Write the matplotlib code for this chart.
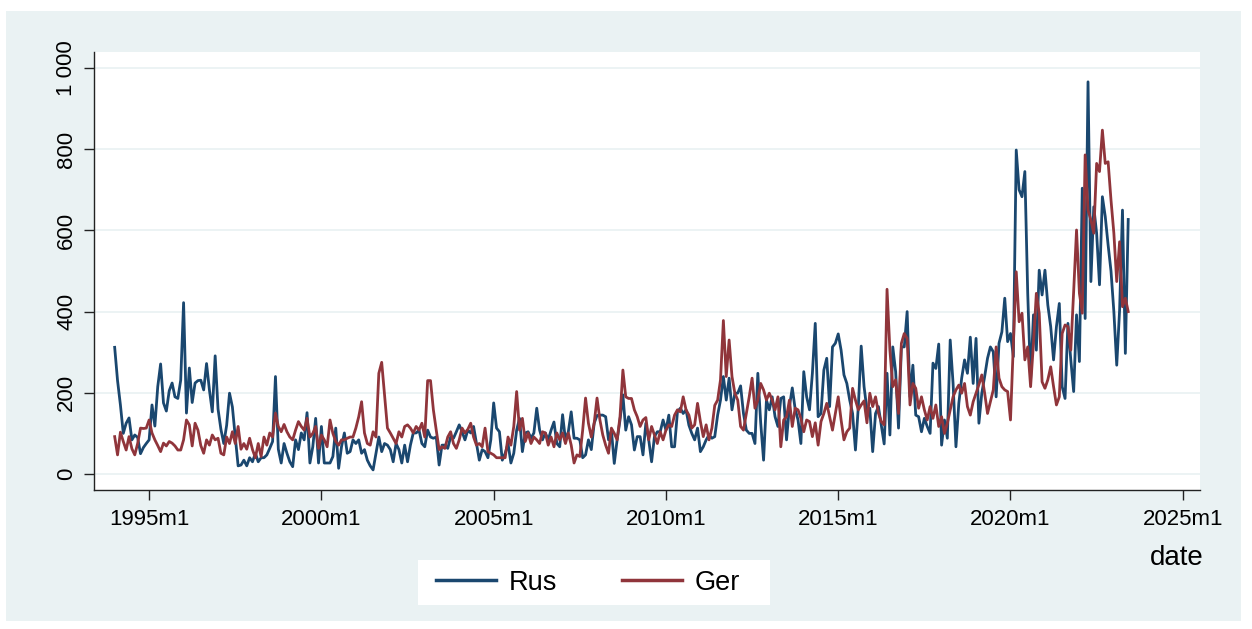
import numpy as np
import matplotlib
matplotlib.use("Agg")
import matplotlib.pyplot as plt
from matplotlib.patches import Rectangle

plt.rcParams['font.family'] = ['Liberation Sans', 'DejaVu Sans']

start_year = 1994
rus_by_year = {
    1994: [312, 230, 170, 100, 125, 138, 84, 96, 90, 50, 65, 75],
    1995: [84, 170, 118, 215, 271, 175, 155, 205, 224, 190, 186, 231],
    1996: [422, 150, 261, 176, 224, 230, 231, 207, 272, 207, 153, 291],
    1997: [160, 110, 75, 120, 199, 165, 91, 20, 22, 34, 20, 40],
    1998: [30, 51, 30, 40, 40, 47, 63, 80, 240, 61, 27, 75],
    1999: [51, 30, 18, 84, 60, 101, 84, 151, 27, 67, 137, 27],
    2000: [117, 27, 27, 27, 43, 113, 14, 67, 101, 51, 55, 84],
    2001: [75, 84, 51, 60, 34, 20, 10, 51, 91, 55, 75, 71],
    2002: [60, 30, 75, 60, 27, 71, 30, 71, 101, 101, 108, 75],
    2003: [67, 108, 91, 88, 91, 22, 71, 71, 63, 91, 88, 104],
    2004: [121, 104, 84, 108, 101, 117, 75, 34, 60, 55, 40, 84],
    2005: [175, 113, 104, 34, 51, 75, 27, 51, 108, 137, 55, 101],
    2006: [104, 88, 101, 162, 108, 84, 101, 84, 108, 128, 75, 67],
    2007: [146, 84, 104, 153, 88, 88, 84, 40, 47, 84, 60, 125],
    2008: [144, 145, 145, 141, 84, 108, 26, 84, 133, 195, 108, 141],
    2009: [121, 59, 92, 92, 47, 125, 84, 30, 92, 104, 104, 133],
    2010: [108, 145, 67, 67, 153, 162, 149, 158, 120, 100, 84, 113],
    2011: [55, 67, 84, 96, 88, 92, 145, 182, 240, 182, 236, 158],
    2012: [199, 199, 217, 149, 108, 100, 100, 75, 248, 126, 34, 182],
    2013: [158, 190, 141, 117, 186, 190, 84, 166, 212, 160, 133, 75],
    2014: [252, 190, 158, 248, 371, 141, 149, 256, 285, 166, 313, 322],
    2015: [345, 305, 244, 223, 182, 149, 59, 166, 315, 215, 158, 162],
    2016: [55, 149, 166, 120, 74, 248, 96, 313, 252, 113, 313, 313],
    2017: [400, 190, 268, 145, 141, 104, 137, 117, 100, 273, 260, 320],
    2018: [71, 133, 88, 330, 223, 67, 174, 236, 281, 248, 337, 223],
    2019: [334, 125, 199, 240, 285, 313, 301, 190, 322, 350, 433, 326],
    2020: [346, 289, 798, 700, 683, 745, 445, 232, 392, 305, 502, 441],
    2021: [502, 416, 363, 281, 363, 420, 215, 186, 371, 281, 203, 392],
    2022: [277, 704, 383, 966, 474, 658, 593, 466, 683, 634, 564, 500],
    2023: [400, 268, 404, 650, 297, 627],
}
ger_by_year = {
    1994: [92, 47, 103, 80, 59, 92, 62, 47, 75, 113, 112, 113],
    1995: [133, 101, 84, 70, 55, 76, 69, 80, 76, 69, 59, 59],
    1996: [84, 133, 121, 69, 125, 108, 70, 51, 84, 71, 96, 84],
    1997: [88, 51, 47, 91, 75, 104, 75, 117, 61, 75, 61, 88],
    1998: [60, 40, 75, 43, 91, 71, 101, 91, 150, 117, 104, 122],
    1999: [104, 91, 84, 108, 129, 117, 108, 137, 91, 100, 117, 63],
    2000: [96, 84, 67, 133, 100, 80, 71, 84, 84, 88, 91, 91],
    2001: [113, 141, 178, 101, 75, 71, 104, 91, 248, 275, 195, 113],
    2002: [101, 88, 75, 104, 91, 117, 121, 113, 101, 117, 108, 125],
    2003: [91, 230, 230, 158, 108, 60, 67, 63, 91, 104, 75, 63],
    2004: [84, 113, 101, 110, 125, 91, 71, 75, 67, 113, 55, 51],
    2005: [47, 40, 40, 40, 40, 91, 71, 117, 203, 108, 137, 80],
    2006: [101, 75, 91, 84, 75, 104, 101, 71, 91, 67, 101, 84],
    2007: [101, 75, 101, 71, 27, 47, 43, 108, 187, 125, 91, 125],
    2008: [187, 133, 96, 71, 51, 113, 100, 84, 141, 256, 190, 186],
    2009: [186, 158, 141, 117, 133, 139, 84, 117, 96, 75, 104, 84],
    2010: [108, 121, 117, 145, 158, 153, 190, 158, 145, 113, 121, 174],
    2011: [129, 92, 121, 84, 113, 169, 182, 232, 378, 240, 330, 240],
    2012: [199, 182, 117, 108, 149, 190, 236, 162, 182, 223, 207, 182],
    2013: [199, 182, 158, 190, 67, 133, 141, 182, 117, 162, 158, 137],
    2014: [104, 133, 129, 92, 126, 71, 129, 149, 174, 141, 108, 149],
    2015: [190, 133, 84, 104, 113, 211, 182, 158, 170, 180, 126, 199],
    2016: [166, 190, 150, 129, 121, 455, 305, 215, 232, 149, 322, 346],
    2017: [334, 170, 223, 211, 162, 190, 158, 133, 166, 137, 170, 117],
    2018: [141, 100, 125, 158, 190, 207, 219, 199, 223, 166, 145, 178],
    2019: [199, 220, 244, 199, 149, 178, 207, 313, 236, 215, 207, 203],
    2020: [133, 322, 498, 375, 396, 281, 313, 215, 322, 445, 396, 227],
    2021: [211, 232, 264, 215, 170, 190, 346, 367, 363, 305, 450, 601],
    2022: [445, 396, 786, 650, 626, 593, 765, 745, 847, 765, 769, 675],
    2023: [593, 474, 572, 412, 433, 400],
}
rus = [v for y in sorted(rus_by_year) for v in rus_by_year[y]]
ger = [v for y in sorted(ger_by_year) for v in ger_by_year[y]]

x_tick_labels = ['1995m1', '2000m1', '2005m1', '2010m1', '2015m1', '2020m1', '2025m1']
y_ticks = [0, 200, 400, 600, 800, 1000]
y_tick_labels = ['0', '200', '400', '600', '800', '1 000']

# Stata-like monthly date numbers (months since 1960m1)
t0 = (start_year - 1960) * 12
t = np.arange(t0, t0 + len(rus))
x_ticks = [(int(s[:4]) - 1960) * 12 for s in x_tick_labels]

W, H = 1252, 629
fig = plt.figure(figsize=(W / 100, H / 100), dpi=100)
fig.patch.set_facecolor('white')
bg = '#EAF2F3'
fig.patches.append(Rectangle((6 / W, 1 - 621 / H), (1241 - 6) / W, (621 - 11) / H,
                             transform=fig.transFigure, facecolor=bg, edgecolor='none', zorder=-10))
# legend box
fig.patches.append(Rectangle((418 / W, 1 - 605 / H), (770 - 418) / W, (605 - 560) / H,
                             transform=fig.transFigure, facecolor='white', edgecolor='none', zorder=-5))

ax = fig.add_axes([94 / W, 1 - 490 / H, (1200 - 94) / W, (490 - 52) / H])
ax.set_facecolor('white')

navy = '#1A476F'
maroon = '#90353B'
ax.plot(t, rus, color=navy, lw=2.0, label='Rus', zorder=3)
ax.plot(t, ger, color=maroon, lw=2.0, label='Ger', zorder=4)

ax.set_xlim(t0 - 7.2, t0 + 378)
ax.set_ylim(-39.5, 1039.5)

ax.set_yticks(y_ticks)
ax.set_yticklabels(y_tick_labels, rotation=90, va='center')
ax.set_xticks(x_ticks)
ax.set_xticklabels(x_tick_labels)

for yv in y_ticks:
    ax.axhline(yv, color='#EAF2F3', lw=1.3, zorder=1)

for s in ['top', 'right']:
    ax.spines[s].set_visible(False)
for s in ['left', 'bottom']:
    ax.spines[s].set_color('#222222')
    ax.spines[s].set_linewidth(1.0)

ax.tick_params(axis='both', direction='out', length=7, width=1.0, color='#222222',
               labelsize=16, labelcolor='black')
ax.tick_params(axis='x', pad=7)
ax.tick_params(axis='y', pad=5)

fig.text(1204 / W, 1 - 558 / H, 'date', ha='right', va='center', fontsize=20)

leg = fig.legend(loc='center', bbox_to_anchor=(588 / W, 1 - 582.5 / H), ncol=2,
                 fontsize=19.5, frameon=False, handlelength=2.2,
                 handletextpad=0.48, columnspacing=2.4, borderpad=0,
                 borderaxespad=0)
for line in leg.get_lines():
    line.set_linewidth(2.5)

fig.savefig('out.png', dpi=100, facecolor=fig.get_facecolor())
